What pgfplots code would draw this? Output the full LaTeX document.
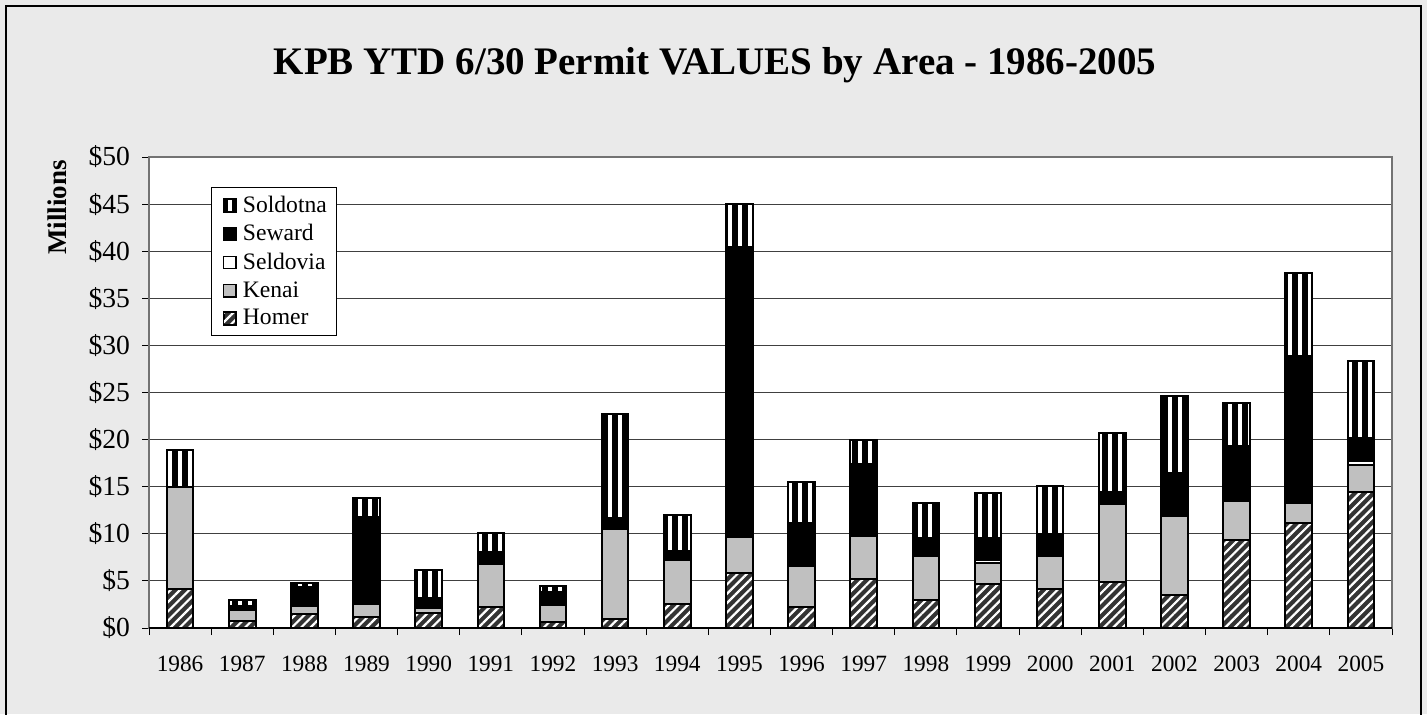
\documentclass[border=0pt]{standalone}
\usepackage{pgfplots}
\pgfplotsset{compat=1.18}
\usepackage{pgfplotstable}
\usepackage{fontspec}
\setmainfont{Liberation Serif}
\usetikzlibrary{patterns.meta}
\definecolor{bg}{HTML}{EAEAEA}
\definecolor{kenai}{HTML}{C0C0C0}
\definecolor{homer}{HTML}{333333}

\pgfplotstableread{
x homer kenai seldovia seward soldotna
0  4.15 10.81 0    0.05  3.89
1  0.78 1.17  0    0.35  0.68
2  1.49 0.88  0    1.95  0.50
3  1.17 1.43  0    9.20  2.00
4  1.60 0.53  0    1.07  2.97
5  2.19 4.65  0    1.26  2.00
6  0.64 1.84  0    1.35  0.60
7  0.99 9.57  0    1.14  11.00
8  2.55 4.72  0    0.88  3.90
9  5.85 3.79  0    30.76 4.60
10 2.19 4.36  0    4.55  4.39
11 5.21 4.53  0    7.63  2.56
12 2.94 4.75  0    1.88  3.73
13 4.68 2.23  0.28 2.38  4.79
14 4.15 3.54  0    2.31  5.06
15 4.85 8.34  0    1.24  6.31
16 3.54 8.33  0    4.54  8.23
17 9.32 4.15  0    5.85  4.62
18 11.17 2.13 0    15.59 8.80
19 14.43 2.90 0.35 2.46  8.22
}\data

\begin{document}
\begin{tikzpicture}
\begin{scope}[x=0.5pt,y=-0.5pt]
\useasboundingbox (0,0) rectangle (1427,714);
\fill[bg] (0,0) rectangle (1427,714);
\draw[black, line width=0.8pt] (5.7,5.7) rectangle (1420.7,740);
\node[anchor=base, inner sep=0pt, font=\bfseries\fontsize{19.5pt}{23pt}\selectfont] at (715,74.3) {KPB YTD 6/30 Permit VALUES by Area - 1986-2005};
\node[anchor=base, rotate=90, inner sep=0pt, font=\bfseries\fontsize{13.5pt}{16pt}\selectfont] at (66,207.5) {Millions};
\end{scope}
\begin{axis}[
  at={(74.5pt,-314pt)}, anchor=south west,
  scale only axis, width=621.5pt, height=235.5pt,
  axis background/.style={fill=white},
  xmin=-0.5, xmax=19.5, ymin=0, ymax=50,
  ybar stacked, bar width=13.3pt,
  xtick={-0.5,0.5,...,19.5}, xticklabels={},
  extra x ticks={0,1,...,19},
  extra x tick labels={1986,1987,1988,1989,1990,1991,1992,1993,1994,1995,1996,1997,1998,1999,2000,2001,2002,2003,2004,2005},
  extra x tick style={major tick length=0pt},
  ytick={0,5,...,50},
  yticklabels={\$0,\$5,\$10,\$15,\$20,\$25,\$30,\$35,\$40,\$45,\$50},
  tick pos=left,
  tick align=outside,
  major tick length=3.5pt,
  tick style={black, line width=0.5pt},
  xticklabel style={font=\fontsize{11.65pt}{14pt}\selectfont, yshift=-10.5pt},
  yticklabel style={font=\fontsize{13.8pt}{16pt}\selectfont, xshift=-2.5pt},
  ymajorgrids,
  major grid style={black!75, line width=0.5pt},
  axis line style={black!55, line width=0.8pt},
  legend style={at={(0.0499,0.936)}, anchor=north west, draw=black, line width=0.5pt, fill=white,
    font=\fontsize{11.8pt}{14pt}\selectfont, row sep=0.6pt, inner ysep=2pt},
  legend cell align=left,
  reverse legend,
  legend image code/.code={\draw[#1, line width=0.7pt] (0pt,-3.1pt) rectangle (6.2pt,3.1pt); \path (-2.5pt,0pt) (7.2pt,0pt);},
]
\addplot[draw=black, line width=1pt, preaction={fill=homer}, pattern={Lines[angle=45,distance=3.3pt,line width=1.1pt]}, pattern color=white] table[x=x,y=homer]{\data};
\addplot[draw=black, line width=1pt, fill=kenai] table[x=x,y=kenai]{\data};
\addplot[draw=black, line width=1pt, fill=white] table[x=x,y=seldovia]{\data};
\addplot[draw=black, line width=1pt, fill=black] table[x=x,y=seward]{\data};
\addplot[draw=black, line width=1pt, preaction={fill=black}, pattern={Lines[angle=90,distance=5pt,line width=2.2pt]}, pattern color=white] table[x=x,y=soldotna]{\data};
\legend{Homer,Kenai,Seldovia,Seward,Soldotna}
\draw[black, line width=0.8pt] (axis cs:-0.5,0) -- (axis cs:19.5,0);
\end{axis}
\end{tikzpicture}
\end{document}
